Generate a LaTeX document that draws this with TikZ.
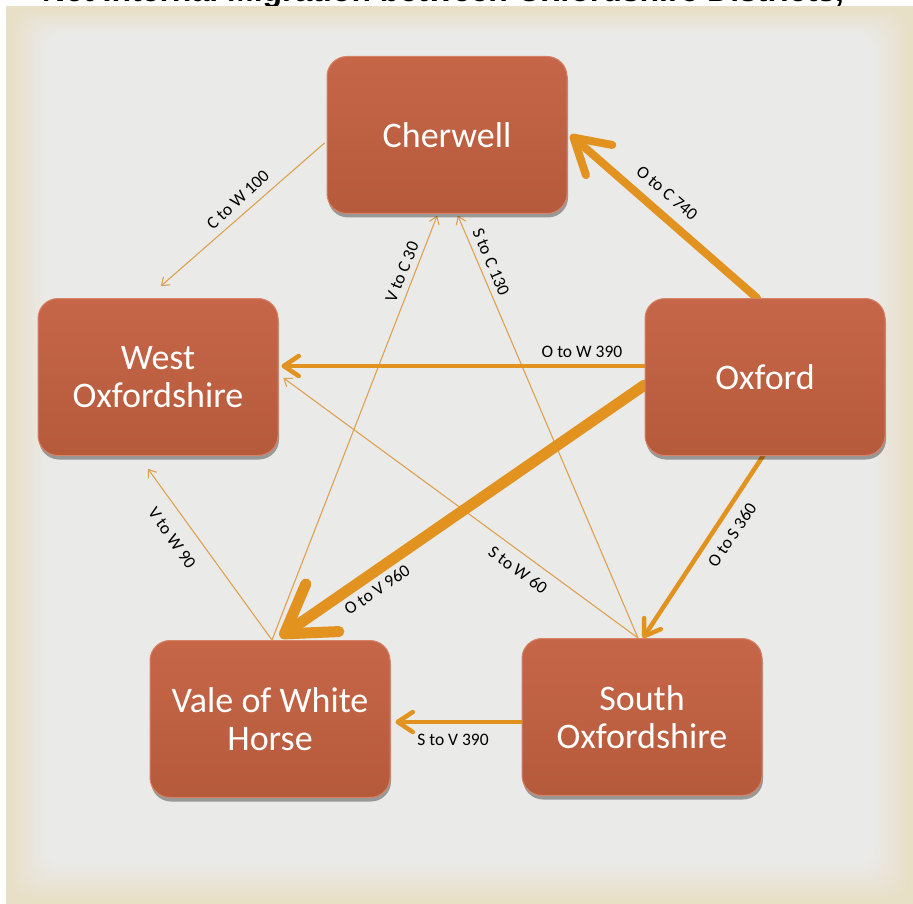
\documentclass[tikz,border=0pt]{standalone}
\usepackage{fontspec}
\setmainfont{Carlito}
\newfontfamily\titlefont{Liberation Sans}
\usetikzlibrary{arrows.meta,calc,shadows}
\definecolor{bgA}{RGB}{232,223,199}
\definecolor{bgB}{RGB}{234,234,233}
\definecolor{boxtop}{RGB}{198,102,72}
\definecolor{boxbot}{RGB}{182,90,60}
\definecolor{boxedge}{RGB}{214,130,102}
\definecolor{flowc}{RGB}{226,146,30}
\definecolor{thinc}{RGB}{222,162,78}
\pgfdeclarelayer{back}
\pgfdeclarelayer{edges}
\pgfsetlayers{back,edges,main}
\begin{document}
\begin{tikzpicture}[x=1pt,y=-1pt,
  district/.style={rounded corners=20pt, minimum width=240pt, minimum height=157pt,
    top color=boxtop, bottom color=boxbot, draw=boxedge, line width=1pt,
    text=white, align=center, font=\fontsize{36}{38}\selectfont,
    drop shadow={shadow xshift=1pt, shadow yshift=-4pt, opacity=0.35, fill=black}},
  lab/.style={font=\fontsize{17.5}{20}\selectfont, text=black, inner sep=0pt},
  fthick/.style={draw=flowc, line width=11pt, line cap=round,
    -{Straight Barb[length=46pt,width=58pt,round]}},
  fOC/.style={draw=flowc, line width=8pt, line cap=round,
    -{Straight Barb[length=34pt,width=40pt,round]}},
  fmed/.style={draw=flowc, line width=4.5pt, line cap=round,
    -{Straight Barb[length=15pt,width=20pt,round]}},
  fthin/.style={draw=thinc, line width=1.1pt, line cap=round,
    -{Straight Barb[length=7pt,width=10pt,round]}}
]
\useasboundingbox (0,0) rectangle (913,904);
\begin{pgfonlayer}{back}
  \fill[white] (0,0) rectangle (913,904);
  \begin{scope}
    \clip (0,0) rectangle (913,6);
    \node[anchor=base west, inner sep=0pt, text=black,
      font=\titlefont\bfseries\fontsize{32}{34}\selectfont] (title) at (42,1.5)
      {Net Internal Migration between Oxfordshire Districts,};
  \end{scope}
  \fill[bgA] (6,6) rectangle (913,904);
  \foreach \i in {0,...,20} {
    \pgfmathtruncatemacro{\p}{100*\i/20}
    \pgfmathsetmacro{\d}{4+1.8*\i}
    \fill[bgB!\p!bgA, rounded corners=18pt] (6+\d,6+\d*0.7) rectangle (913-\d,904-\d);
  }
\end{pgfonlayer}

\node[district] (C) at (447,135) {Cherwell};
\node[district] (W) at (158,377) {West\\Oxfordshire};
\node[district] (O) at (765,377) {Oxford};
\node[district] (V) at (270,719) {Vale of White\\Horse};
\node[district] (S) at (642,717) {South\\Oxfordshire};

\begin{pgfonlayer}{edges}
  \draw[fthin] ($(C.west)+(-2,8)$) -- ($(W.north)+(3,-12)$);
  \draw[fthin] ($(V.north)+(2,0)$) -- ($(C.south)+(-10,2)$);
  \draw[fthin] ($(S.north)+(-4,0)$) -- ($(C.south)+(11,2)$);
  \draw[fthin] ($(S.north)+(-4,0)$) -- ($(W.east)+(5,1)$);
  \draw[fthin] ($(V.north)+(2,0)$) -- ($(W.south)+(-10,13)$);
  \draw[fmed] ($(O.west)+(0,-11)$) -- ($(W.east)+(3,-11)$);
  \draw[fmed] ($(O.south)+(-2,0)$) -- ($(S.north)+(1,0)$);
  \draw[fmed] ($(S.west)+(0,5)$) -- ($(V.east)+(5,3)$);
  \draw[fOC] ($(O.north)+(-8,0)$) -- ($(C.east)+(3,0)$);
  \draw[fthick] ($(O.west)+(0,8)$) -- ($(V.north)+(10,-3)$);
\end{pgfonlayer}

\node[lab, rotate=-40.5] (lOC) at (667,193) {O to C 740};
\node[lab] (lOW) at (582,352) {O to W 390};
\node[lab, rotate=34] (lOV) at (377,590) {O to V 960};
\node[lab, rotate=56] (lOS) at (732,535) {O to S 360};
\node[lab] (lSV) at (453,740) {S to V 390};
\node[lab, rotate=43] (lCW) at (238,200) {C to W 100};
\node[lab, rotate=68] (lVC) at (402,272) {V to C 30};
\node[lab, rotate=-67] (lSC) at (491,262) {S to C 130};
\node[lab, rotate=-36] (lSW) at (518,570) {S to W 60};
\node[lab, rotate=-55] (lVW) at (172,538) {V to W 90};
\end{tikzpicture}
\end{document}
